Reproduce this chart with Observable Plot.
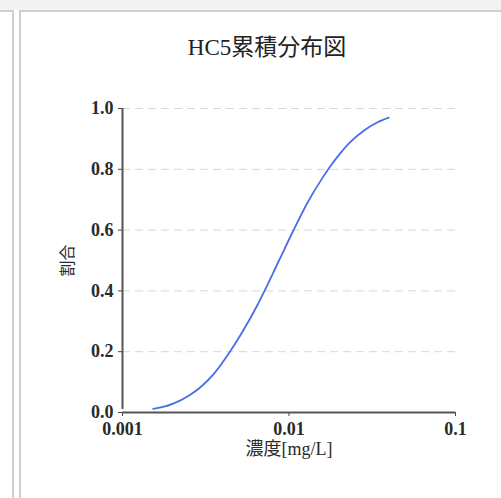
<!DOCTYPE html>
<html>
<head>
<meta charset="utf-8">
<script src="https://cdn.jsdelivr.net/npm/d3@7"></script>
<script src="https://cdn.jsdelivr.net/npm/@observablehq/plot@0.6"></script>
<style>
  html, body { margin: 0; padding: 0; background: #fff; width: 501px; height: 498px; overflow: hidden; }
  #wrap { position: relative; width: 501px; height: 498px; }
  #chart { position: absolute; left: 0; top: 0; }
  .band { position: absolute; left: 0; top: 0; width: 501px; height: 10px; background: #f3f3f3; }
  .panel { position: absolute; box-sizing: border-box; border: 2px solid #cfcfcf; pointer-events: none; }
</style>
</head>
<body>
<div id="wrap">
  <div id="chart"></div>
  <div class="band"></div>
  <div class="panel" style="left:-4px; top:10px; width:18px; height:600px;"></div>
  <div class="panel" style="left:19px; top:10px; width:600px; height:600px;"></div>
</div>
<script>
const title = "HC5累積分布図";
const xLabel = "濃度[mg/L]";
const yLabel = "割合";
const xTicks = [0.001, 0.01, 0.1];
const xTickLabels = ["0.001", "0.01", "0.1"];
const yTicks = [0, 0.2, 0.4, 0.6, 0.8, 1.0];
const yTickLabels = ["0.0", "0.2", "0.4", "0.6", "0.8", "1.0"];

// curve points
const concentration = [0.001528, 0.001778, 0.002032, 0.002512, 0.002951, 0.003548, 0.004406, 0.005117, 0.006442, 0.007129, 0.00871, 0.01059, 0.01291, 0.01585, 0.0175, 0.02037, 0.02339, 0.02812, 0.03381, 0.03972];
const fraction      = [0.012,    0.019,    0.03,     0.056,    0.084,    0.128,    0.199,    0.255,    0.352,    0.4,      0.5,     0.597,   0.69,    0.771,   0.806,  0.853,   0.89,    0.927,   0.954,   0.97];

const data = concentration.map((c, i) => ({c, f: fraction[i]}));
const xLabelMap = new Map(xTicks.map((t, i) => [t, xTickLabels[i]]));
const yLabelMap = new Map(yTicks.map((t, i) => [t, yTickLabels[i]]));

const serif = "'Liberation Serif', 'DejaVu Serif', 'Noto Sans CJK JP', serif";

const chart = Plot.plot({
  width: 501,
  height: 498,
  marginLeft: 122,
  marginRight: 46,
  marginTop: 108,
  marginBottom: 86,
  style: {fontFamily: serif, fontSize: "18px", color: "#2a2a2a", background: "transparent"},
  x: {type: "log", domain: [0.001, 0.1]},
  y: {domain: [0, 1]},
  marks: [
    Plot.gridY(yTicks.slice(1), {stroke: "#d8d8d8", strokeOpacity: 1, strokeDasharray: "8,5"}),
    Plot.axisY(yTicks, {
      tickFormat: d => yLabelMap.get(d),
      tickSize: 4, tickPadding: 5, fontWeight: "bold", fontSize: 18, stroke: "#444",
      label: null
    }),
    Plot.axisX(xTicks, {
      tickFormat: d => xLabelMap.get(d),
      tickSize: 4, tickPadding: 6, fontWeight: "bold", fontSize: 18, stroke: "#444",
      label: null
    }),
    Plot.ruleX([0.001], {y1: 0, y2: 1, stroke: "#555", strokeWidth: 2, insetTop: -3}),
    Plot.ruleY([0], {stroke: "#555", strokeWidth: 2}),
    Plot.line(data, {x: "c", y: "f", stroke: "#4a6ee8", strokeWidth: 1.8, curve: "monotone-x"}),
    Plot.text([title], {frameAnchor: "top", dy: -70, dx: -22, fontSize: 23, fill: "#222", fontFamily: serif}),
    Plot.text([xLabel], {frameAnchor: "bottom", dy: 42, dx: 0, fontSize: 18, fill: "#2a2a2a", fontFamily: serif}),
    Plot.text([yLabel], {frameAnchor: "left", dx: -55, dy: 16, rotate: -90, fontSize: 16, fill: "#2a2a2a", fontFamily: serif})
  ]
});
document.getElementById("chart").appendChild(chart);
</script>
</body>
</html>
